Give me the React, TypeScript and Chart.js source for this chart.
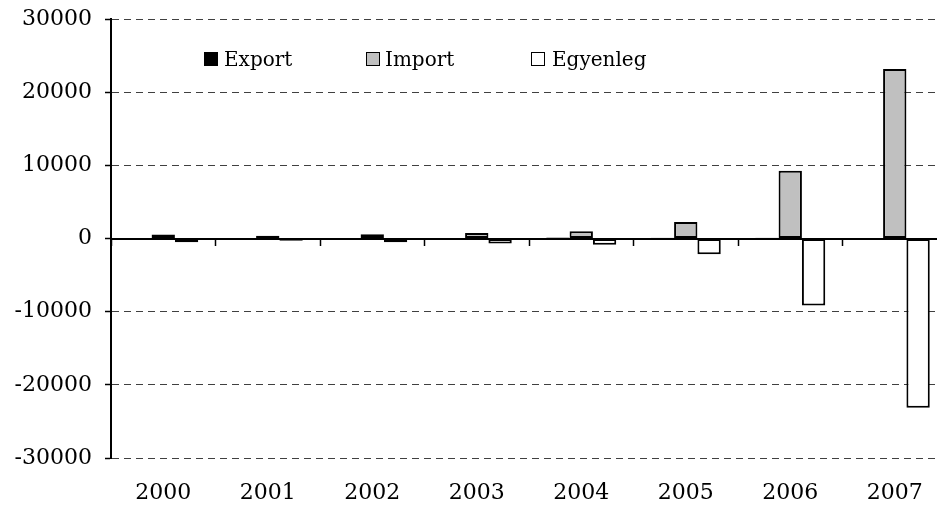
import React, { useEffect, useRef } from "react";
import { Chart, registerables } from "chart.js";

Chart.register(...registerables);

const categories = ["2000", "2001", "2002", "2003", "2004", "2005", "2006", "2007"];
const exportValues = [40, 60, 60, 80, 150, 100, 100, 50];
const importValues = [560, 380, 580, 760, 1000, 2250, 9250, 23180];
const balanceValues = [-520, -320, -520, -680, -850, -2150, -9150, -23130];
const yMin = -30000;
const yMax = 30000;
const yStep = 10000;

const FONT = "'DejaVu Serif', serif";

const legendItems = [
  { label: "Export", fill: "#000000", sq: 204, tx: 224 },
  { label: "Import", fill: "#c0c0c0", sq: 366, tx: 385 },
  { label: "Egyenleg", fill: "#ffffff", sq: 531, tx: 552 },
];

export default function App() {
  const ref = useRef<HTMLCanvasElement | null>(null);

  useEffect(() => {
    document.body.style.margin = "0";
    const canvas = ref.current;
    if (!canvas) return;
    const chart = new Chart(canvas, {
      type: "bar",
      data: {
        labels: categories,
        datasets: [
          { label: "Export", data: exportValues, backgroundColor: "#000000", borderColor: "#000000", borderWidth: 2, borderSkipped: false, xAxisID: "x" },
          { label: "Import", data: importValues, backgroundColor: "#c0c0c0", borderColor: "#000000", borderWidth: 2, borderSkipped: false, xAxisID: "x" },
          { label: "Egyenleg", data: balanceValues, backgroundColor: "#ffffff", borderColor: "#000000", borderWidth: 2, borderSkipped: false, xAxisID: "x" },
        ],
      },
      options: {
        responsive: false,
        animation: false,
        events: [],
        layout: { padding: { left: 0, right: 5, top: 19, bottom: 0 } },
        datasets: { bar: { barPercentage: 1, categoryPercentage: 0.67 } },
        plugins: { legend: { display: false }, tooltip: { enabled: false } },
        scales: {
          x: {
            type: "category",
            position: "bottom",
            offset: true,
            grid: { display: false, drawTicks: false },
            border: { display: false },
            ticks: { color: "#000", font: { family: FONT, size: 22 }, padding: 22, maxRotation: 0 },
            afterFit: (s: any) => { s.height = 50; s.paddingLeft = 0; s.paddingRight = 0; },
          },
          x2: {
            type: "category",
            axis: "x",
            position: { y: 0 },
            offset: true,
            grid: { offset: true, drawOnChartArea: false, drawTicks: true, tickLength: 6, tickColor: "#000", tickWidth: 1.5 },
            border: { display: true, color: "#000", width: 2 },
            ticks: { display: false },
          },
          y: {
            min: yMin,
            max: yMax,
            ticks: {
              stepSize: yStep,
              color: "#000",
              font: { family: FONT, size: 22 },
              padding: 13,
              callback: (v: any) => String(v),
            },
            grid: {
              color: (c: any) => (c.tick && c.tick.value === 0 ? "rgba(0,0,0,0)" : "#404040"),
              lineWidth: 1,
              drawTicks: true,
              tickLength: 6,
              tickColor: "#000",
              tickWidth: 1.5,
              tickBorderDash: [],
            },
            border: { display: true, color: "#000", width: 2, dash: [7, 5] },
            afterFit: (s: any) => { s.width = 111; s.paddingTop = 0; s.paddingBottom = 0; },
          },
        },
      } as any,
    });
    return () => chart.destroy();
  }, []);

  return (
    <div style={{ position: "relative", width: 937, height: 508, overflow: "hidden", background: "#fff" }}>
      <canvas ref={ref} width={952} height={508} style={{ position: "absolute", left: 0, top: 0, width: 952, height: 508 }} />
      {legendItems.map((it) => (
        <React.Fragment key={it.label}>
          <div
            style={{
              position: "absolute",
              left: it.sq,
              top: 52,
              width: 14,
              height: 14,
              boxSizing: "border-box",
              border: "1.5px solid #000",
              background: it.fill,
            }}
          />
          <div
            style={{
              position: "absolute",
              left: it.tx,
              top: 49,
              fontFamily: FONT,
              fontSize: 20,
              lineHeight: "20px",
              color: "#000",
              whiteSpace: "nowrap",
            }}
          >
            {it.label}
          </div>
        </React.Fragment>
      ))}
    </div>
  );
}
